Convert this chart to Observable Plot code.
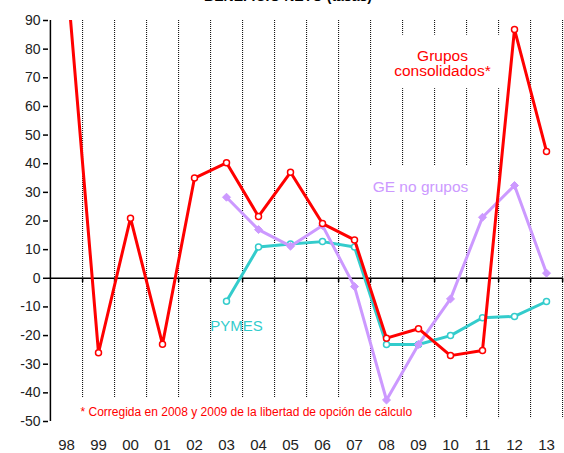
<!DOCTYPE html>
<html>
<head>
<meta charset="utf-8">
<script src="https://cdn.jsdelivr.net/npm/d3@7"></script>
<script src="https://cdn.jsdelivr.net/npm/@observablehq/plot@0.6"></script>
<style>
  html, body { margin: 0; padding: 0; background: #fff; overflow: hidden; }
  #wrap { position: relative; width: 564px; height: 453px; }
  #title { position: absolute; top: -12px; left: 12px; width: 552px; text-align: center;
           font: bold 14px "Liberation Sans", Arial, sans-serif; color: #000; z-index: 2; }
</style>
</head>
<body>
<div id="wrap">
  <div id="title">BENEFICIO NETO (tasas)</div>
</div>
<script>
const years = ["98","99","00","01","02","03","04","05","06","07","08","09","10","11","12","13"];
const grupos = [107, -26, 21, -23, 35, 40.3, 21.6, 37, 19.1, 13.4, -20.9, -17.6, -27, -25.2, 86.9, 44.3];
const geNoGrupos = [null, null, null, null, null, 28.3, 17, 11.2, 18.4, -2.9, -42.5, -23.1, -7.2, 21.3, 32.4, 1.8];
const pymes = [null, null, null, null, null, -8, 10.9, 12, 12.8, 10.9, -23.1, -23.1, -20, -13.8, -13.3, -8.1];
const yTicks = [90, 80, 70, 60, 50, 40, 30, 20, 10, 0, -10, -20, -30, -40, -50];

const labelGrupos = ["Grupos", "consolidados*"];
const labelGE = "GE no grupos";
const labelPymes = "PYMES";
const footnote = "* Corregida en 2008 y 2009 de la libertad de opción de cálculo";

const RED = "#ff0000", PURPLE = "#cc99ff", TEAL = "#33cccc";

const rows = (vals) => years.map((y, i) => ({year: y, value: vals[i]})).filter(d => d.value != null);
const dGrupos = rows(grupos), dGE = rows(geNoGrupos), dPymes = rows(pymes);

const W = 564, H = 453, ML = 48, MR = 1;
const bw = (W - ML - MR) / years.length;

const chart = Plot.plot({
  width: W, height: H,
  marginLeft: ML, marginRight: MR, marginTop: 20, marginBottom: 32,
  style: {fontFamily: "'Liberation Sans', Arial, sans-serif", fontSize: "14px", color: "#222", background: "#fff"},
  x: {type: "band", domain: years, padding: 0, label: null},
  y: {domain: [-50, 90], label: null},
  marks: [
    Plot.ruleX(years, {x: d => d, dx: bw / 2, y1: 90, y2: -49, stroke: "#000", strokeWidth: 1, strokeDasharray: "1,1"}),
    Plot.ruleX([years[0]], {x: d => d, dx: -bw / 2, y1: 90, y2: -50, stroke: "#000", strokeWidth: 1.5}),
    Plot.ruleY([0], {stroke: "#000", strokeWidth: 1.5}),
    Plot.ruleX(years, {x: d => d, dx: bw / 2, y1: 0, y2: -1.5, stroke: "#000", strokeWidth: 1.5}),
    Plot.axisY({ticks: yTicks, tickSize: 5, tickPadding: 3, fontSize: 14, tickFormat: d => String(d), stroke: "#000", strokeWidth: 1.5, label: null}),
    Plot.axisX({tickSize: 0, tickPadding: 18, fontSize: 15, label: null}),
    Plot.line(dPymes, {x: "year", y: "value", stroke: TEAL, strokeWidth: 3}),
    Plot.dot(dPymes, {x: "year", y: "value", r: 3, fill: "#fff", stroke: TEAL, strokeWidth: 1.5}),
    Plot.line(dGE, {x: "year", y: "value", stroke: PURPLE, strokeWidth: 3}),
    Plot.dot(dGE, {x: "year", y: "value", r: 3.6, symbol: "diamond2", fill: PURPLE, stroke: PURPLE, strokeWidth: 1}),
    Plot.line(dGrupos, {x: "year", y: "value", stroke: RED, strokeWidth: 3, clip: true}),
    Plot.dot(dGrupos, {x: "year", y: "value", r: 3, fill: "#fff", stroke: RED, strokeWidth: 1.5, clip: true}),
    Plot.text([labelGrupos.join("\n")], {x: () => "10", y: () => 75, dx: -8, text: d => d, fill: RED, fontSize: 15.5, lineHeight: 1, textAnchor: "middle"}),
    Plot.text([labelGE], {x: () => "09", y: () => 32, dx: 2, text: d => d, fill: PURPLE, fontSize: 15.5, textAnchor: "middle"}),
    Plot.text([labelPymes], {x: () => "03", y: () => -16.8, dx: 10, text: d => d, fill: TEAL, fontSize: 15, textAnchor: "middle"}),
    Plot.text([footnote], {x: () => "98", y: () => -46.9, dx: 14, text: d => d, fill: RED, fontSize: 12, textAnchor: "start"})
  ]
});

document.getElementById("wrap").appendChild(chart);

// white boxes behind some labels (they hide the dotted grid, as the original text boxes do)
try {
  const svg = chart.tagName.toLowerCase() === "svg" ? chart : chart.querySelector("svg");
  const sb = svg.getBoundingClientRect();
  const grid = Array.from(svg.querySelectorAll("g")).find(g => g.getAttribute("stroke-dasharray"));
  const texts = Array.from(svg.querySelectorAll("text"));
  const boxes = [
    [labelGrupos.join(""), [10, 12, 10, 9]],
    [labelGE, [7, 12, 7, 5]],
    [footnote, [7, 8, 6, 2]]
  ];
  for (const [content, [pl, pt, pr, pb]] of boxes) {
    const t = texts.find(el => el.textContent.replace(/\s/g, "") === content.replace(/\s/g, ""));
    if (!t) continue;
    const b = t.getBoundingClientRect();
    const r = document.createElementNS("http://www.w3.org/2000/svg", "rect");
    r.setAttribute("x", b.left - sb.left - pl);
    r.setAttribute("y", b.top - sb.top - pt);
    r.setAttribute("width", b.width + pl + pr);
    r.setAttribute("height", b.height + pt + pb);
    r.setAttribute("fill", "#fff");
    grid.parentNode.insertBefore(r, grid.nextSibling);
  }
} catch (e) { console.error(e); }
</script>
</body>
</html>
